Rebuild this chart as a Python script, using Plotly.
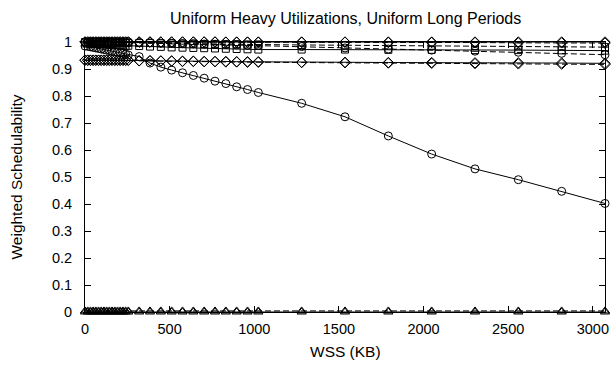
import plotly.graph_objects as go

# WSS values (KB)
wss = [0, 16, 32, 48, 64, 80, 96, 112, 128, 144, 160, 176, 192, 208, 224, 240, 256,
       320, 384, 448, 512, 576, 640, 704, 768, 832, 896, 960, 1024,
       1280, 1536, 1792, 2048, 2304, 2560, 2816, 3072]

circ_solid = [0.985, 0.984, 0.982, 0.980, 0.978, 0.976, 0.974, 0.972, 0.970, 0.968, 0.966, 0.964, 0.962, 0.960, 0.958, 0.955, 0.952,
              0.946, 0.922, 0.907, 0.896, 0.886, 0.876, 0.866, 0.855, 0.846, 0.834, 0.824, 0.813,
              0.773, 0.723, 0.652, 0.585, 0.530, 0.490, 0.447, 0.402]
circ_dashed = [1.0, 1.0, 1.0, 1.0, 1.0, 1.0, 1.0, 1.0, 1.0, 1.0, 1.0, 0.999, 0.999, 0.999, 0.999, 0.999, 0.999,
               0.998, 0.997, 0.996, 0.995, 0.994, 0.993, 0.992, 0.991, 0.990, 0.989, 0.988, 0.987,
               0.983, 0.978, 0.974, 0.970, 0.966, 0.962, 0.958, 0.953]
sq_solid = [0.995, 0.995, 0.994, 0.994, 0.993, 0.993, 0.992, 0.992, 0.991, 0.990, 0.990, 0.989, 0.988, 0.988, 0.987, 0.986, 0.986,
            0.985, 0.983, 0.982, 0.980, 0.979, 0.978, 0.977, 0.976, 0.975, 0.974, 0.973, 0.972,
            0.972, 0.972, 0.971, 0.971, 0.970, 0.970, 0.969, 0.968]
sq_dashed = [1.0, 1.0, 1.0, 1.0, 1.0, 1.0, 0.999, 0.999, 0.999, 0.999, 0.998, 0.998, 0.998, 0.998, 0.997, 0.997, 0.997,
             0.996, 0.996, 0.995, 0.995, 0.994, 0.994, 0.993, 0.993, 0.992, 0.992, 0.991, 0.991,
             0.989, 0.988, 0.987, 0.986, 0.985, 0.984, 0.983, 0.981]
dia_top_solid = [1.0, 1.0, 1.0, 1.0, 1.0, 1.0, 1.0, 1.0, 1.0, 1.0, 1.0, 1.0, 1.0, 1.0, 1.0, 1.0, 1.0,
                 1.0, 1.0, 1.0, 1.0, 1.0, 1.0, 1.0, 1.0, 1.0, 1.0, 1.0, 1.0,
                 1.0, 1.0, 1.0, 1.0, 1.0, 1.0, 1.0, 1.0]
dia_top_dashed = [1.0, 1.0, 1.0, 1.0, 1.0, 1.0, 1.0, 1.0, 1.0, 1.0, 1.0, 1.0, 1.0, 1.0, 1.0, 1.0, 1.0,
                  1.0, 1.0, 1.0, 1.0, 1.0, 1.0, 1.0, 1.0, 0.999, 0.999, 0.999, 0.999,
                  0.999, 0.999, 0.998, 0.998, 0.998, 0.997, 0.997, 0.996]
dia_low_solid = [0.933, 0.933, 0.933, 0.933, 0.933, 0.933, 0.933, 0.933, 0.933, 0.933, 0.933, 0.933, 0.933, 0.933, 0.933, 0.933, 0.933,
                 0.931, 0.931, 0.930, 0.930, 0.929, 0.929, 0.928, 0.928, 0.928, 0.927, 0.927, 0.927,
                 0.925, 0.925, 0.924, 0.924, 0.923, 0.923, 0.922, 0.921]
dia_low_dashed = [0.932, 0.932, 0.932, 0.932, 0.932, 0.932, 0.932, 0.932, 0.932, 0.932, 0.932, 0.932, 0.932, 0.932, 0.932, 0.932, 0.932,
                  0.930, 0.930, 0.929, 0.929, 0.928, 0.928, 0.927, 0.927, 0.926, 0.926, 0.925, 0.925,
                  0.924, 0.923, 0.922, 0.921, 0.920, 0.919, 0.918, 0.917]
tri_solid = [0.0, 0.0, 0.0, 0.0, 0.0, 0.0, 0.0, 0.0, 0.0, 0.0, 0.0, 0.0, 0.0, 0.0, 0.0, 0.0, 0.0,
             0.0, 0.0, 0.0, 0.0, 0.0, 0.0, 0.0, 0.0, 0.0, 0.0, 0.0, 0.0,
             0.0, 0.0, 0.0, 0.0, 0.0, 0.0, 0.0, 0.0]
tri_dashed = [0.004, 0.004, 0.004, 0.004, 0.004, 0.004, 0.004, 0.004, 0.004, 0.004, 0.004, 0.004, 0.004, 0.004, 0.004, 0.004, 0.004,
              0.004, 0.004, 0.004, 0.004, 0.004, 0.004, 0.004, 0.004, 0.004, 0.004, 0.004, 0.004,
              0.004, 0.004, 0.004, 0.004, 0.004, 0.004, 0.004, 0.004]

x_ticks = [0, 500, 1000, 1500, 2000, 2500, 3000]
x_tick_labels = ["0", "500", "1000", "1500", "2000", "2500", "3000"]
y_ticks = [0, 0.1, 0.2, 0.3, 0.4, 0.5, 0.6, 0.7, 0.8, 0.9, 1]
y_tick_labels = ["0", "0.1", "0.2", "0.3", "0.4", "0.5", "0.6", "0.7", "0.8", "0.9", "1"]

title_text = "Uniform Heavy Utilizations, Uniform Long Periods"
x_title = "WSS (KB)"
y_title = "Weighted Schedulability"

series = [
    (tri_solid, "triangle-up-open", "solid", 8),
    (tri_dashed, "triangle-up-open", "6px,3px", 8),
    (dia_low_solid, "diamond-open", "solid", 8),
    (dia_low_dashed, "diamond-open", "6px,3px", 8),
    (circ_solid, "circle-open", "solid", 8),
    (circ_dashed, "circle-open", "6px,3px", 8),
    (sq_solid, "square-open", "solid", 7),
    (sq_dashed, "square-open", "6px,3px", 7),
    (dia_top_solid, "diamond-open", "solid", 8),
    (dia_top_dashed, "diamond-open", "6px,3px", 8),
]

fig = go.Figure()
for ys, sym, dash, size in series:
    fig.add_trace(go.Scatter(
        x=wss, y=ys, mode="lines+markers",
        line=dict(color="black", width=1, dash=dash),
        marker=dict(symbol=sym, size=size, color="black", line=dict(width=1, color="black")),
        cliponaxis=False, showlegend=False, hoverinfo="skip",
    ))

font_family = "Liberation Sans, Arial, sans-serif"
W, H = 613, 365
L, R, T, B = 85, 4, 42, 53

fig.update_layout(
    width=W, height=H,
    margin=dict(l=L, r=R, t=T, b=B, pad=0),
    paper_bgcolor="white", plot_bgcolor="white",
    font=dict(family=font_family, size=14.5, color="black"),
    showlegend=False,
)
fig.update_xaxes(
    range=[0, 3072], tickvals=x_ticks, ticktext=x_tick_labels,
    ticks="inside", ticklen=6, tickwidth=1, tickcolor="black",
    showline=True, linecolor="black", linewidth=1, mirror="allticks",
    showgrid=False, zeroline=False, tickfont=dict(size=14.5),
    ticklabelstandoff=4,
)
fig.update_yaxes(
    range=[0, 1], tickvals=y_ticks, ticktext=y_tick_labels,
    ticks="inside", ticklen=6, tickwidth=1, tickcolor="black",
    showline=True, linecolor="black", linewidth=1, mirror="allticks",
    showgrid=False, zeroline=False, tickfont=dict(size=14.5),
    ticklabelstandoff=9,
)

PH = H - T - B
PW = W - L - R
fig.add_annotation(text=title_text, xref="paper", yref="paper", x=0.5, y=1 + (T - 19) / PH,
                   showarrow=False, xanchor="center", yanchor="middle", font=dict(size=16))
fig.add_annotation(text=x_title, xref="paper", yref="paper", x=0.5, y=-(351 - (H - B)) / PH,
                   showarrow=False, xanchor="center", yanchor="middle", font=dict(size=15.5))
fig.add_annotation(text=y_title, xref="paper", yref="paper", x=-(L - 15) / PW, y=0.5, textangle=-90,
                   showarrow=False, xanchor="center", yanchor="middle", font=dict(size=15.5))

fig.write_html("out.html", config={"displayModeBar": False, "staticPlot": True},
               post_script="document.body.style.margin='0';document.body.style.overflow='hidden';")
